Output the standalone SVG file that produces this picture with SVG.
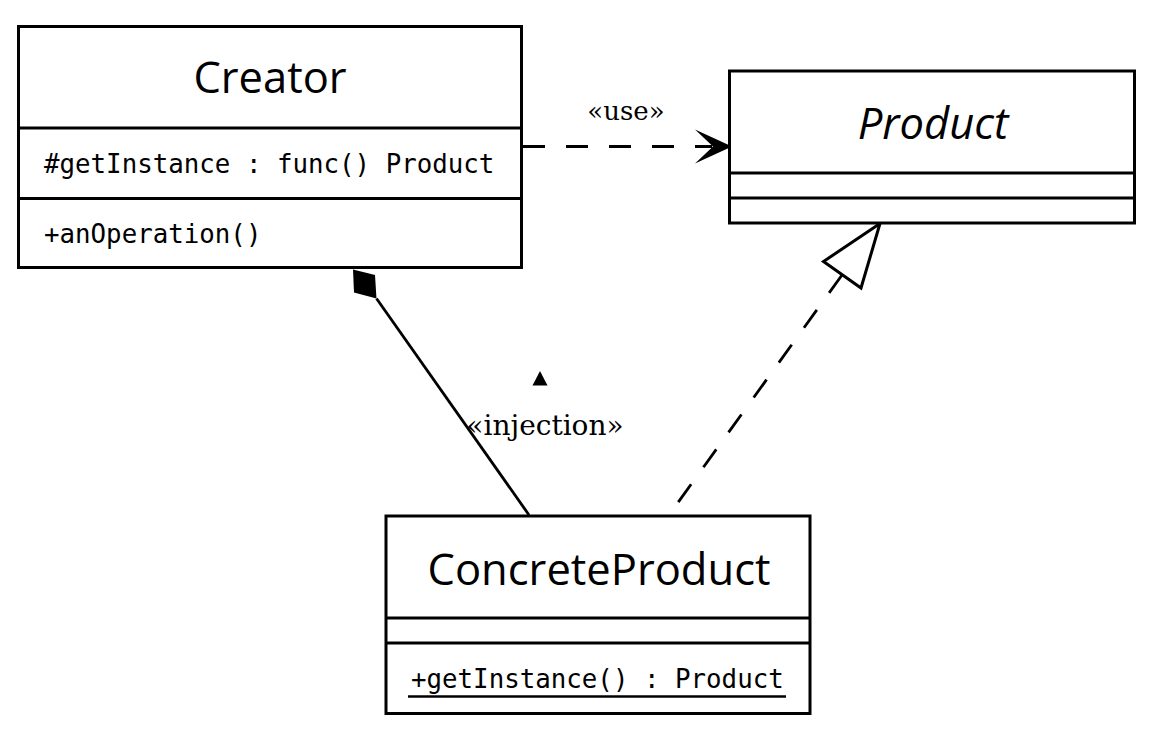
<svg xmlns="http://www.w3.org/2000/svg" width="1167" height="745" viewBox="0 0 1167 745">
  <style>
    .box { fill: #fff; stroke: #000; stroke-width: 3; }
    .sep { stroke: #000; stroke-width: 3; }
    .title { font-family: "Open Sans", "Noto Sans", sans-serif; font-size: 43.5px; fill: #000; text-anchor: middle; }
    .member { font-family: "DejaVu Sans Mono", "Liberation Mono", monospace; font-size: 25.8px; fill: #000; }
    .stereo { font-family: "DejaVu Serif", "Liberation Serif", serif; fill: #000; text-anchor: middle; }
    .line { fill: none; stroke: #000; stroke-width: 2.8; }
    .dash { stroke-dasharray: 22 21; }
  </style>

  <!-- connectors -->
  <g id="connectors">
    <!-- Creator uses Product -->
    <line class="line dash" x1="523" y1="146.5" x2="712" y2="146.5"/>
    <polygon points="732,146.5 695,129.5 713,146.5 695,163.5" fill="#000"/>
    <text class="stereo" x="626" y="120" font-size="26">«use»</text>

    <!-- Creator composition of ConcreteProduct -->
    <line class="line" x1="376.5" y1="298.5" x2="529" y2="515"/>
    <polygon points="353,269.5 375,275 376.5,298.5 354,292.5" fill="#000"/>
    <polygon points="540,371 532.5,385.5 547.5,385.5" fill="#000"/>
    <text class="stereo" x="545" y="435" font-size="28">«injection»</text>

    <!-- ConcreteProduct realizes Product -->
    <line class="line dash" x1="842" y1="275" x2="669" y2="515"/>
    <polygon points="880,223.5 823.5,261.5 861,288" fill="#fff" stroke="#000" stroke-width="3" stroke-linejoin="miter"/>
  </g>

  <!-- Creator -->
  <g id="creator">
    <rect class="box" x="18.5" y="26.5" width="503" height="241"/>
    <line class="sep" x1="18.5" y1="128" x2="521.5" y2="128"/>
    <line class="sep" x1="18.5" y1="198.5" x2="521.5" y2="198.5"/>
    <text class="title" x="270" y="93">Creator</text>
    <text class="member" x="44" y="173">#getInstance : func() Product</text>
    <text class="member" x="44" y="243">+anOperation()</text>
  </g>

  <!-- Product -->
  <g id="product">
    <rect class="box" x="729.5" y="71" width="405" height="152"/>
    <line class="sep" x1="729.5" y1="173" x2="1134.5" y2="173"/>
    <line class="sep" x1="729.5" y1="198" x2="1134.5" y2="198"/>
    <text class="title" x="933" y="139" font-style="italic">Product</text>
  </g>

  <!-- ConcreteProduct -->
  <g id="concrete-product">
    <rect class="box" x="386" y="516" width="424" height="197.5"/>
    <line class="sep" x1="386" y1="618" x2="810" y2="618"/>
    <line class="sep" x1="386" y1="643" x2="810" y2="643"/>
    <text class="title" x="599" y="585">ConcreteProduct</text>
    <text class="member" x="411" y="688">+getInstance() : Product</text>
    <line x1="408" y1="696.5" x2="786" y2="696.5" stroke="#000" stroke-width="2.5"/>
  </g>
</svg>
